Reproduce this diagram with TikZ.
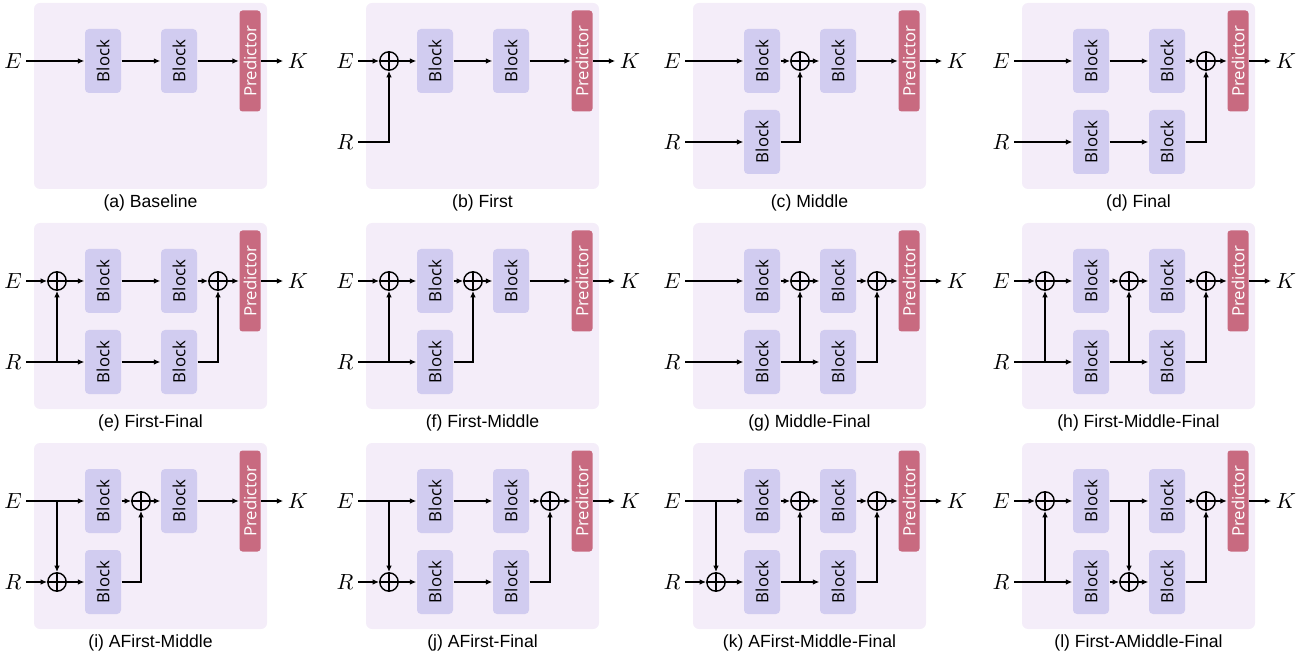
\documentclass[tikz,border=0pt]{standalone}
\usepackage{graphicx}
\usepackage{fontspec}
\setmainfont{Liberation Sans}
\newfontfamily\blockfont{Open Sans}
\usetikzlibrary{arrows.meta}

\definecolor{panelbg}{HTML}{F4EDF9}
\definecolor{blockfill}{HTML}{D1CCF0}
\definecolor{predfill}{HTML}{C86A80}

\newcommand{\blocklabel}{\rotatebox{90}{Block}}
\newcommand{\predlabel}{\rotatebox{90}{Predictor}}

\begin{document}
\begin{tikzpicture}[x=0.5pt,y=-0.5pt,line width=0.7pt,
  panel/.style={fill=panelbg, rounded corners=3pt},
  block/.style={fill=blockfill, rounded corners=2pt, minimum width=18pt,
    minimum height=32pt, inner sep=0pt, text=black,
    font=\blockfont\fontsize{8.4}{10}\selectfont},
  pred/.style={fill=predfill, rounded corners=1.5pt, minimum width=10.5pt,
    minimum height=50.5pt, inner sep=0pt, text=white,
    font=\blockfont\fontsize{8.4}{10}\selectfont},
  plus/.style={circle, draw, minimum size=9.2pt, inner sep=0pt,
    path picture={\draw (path picture bounding box.north) -- (path picture bounding box.south)
      (path picture bounding box.west) -- (path picture bounding box.east);}},
  lab/.style={inner sep=2pt, font=\fontsize{11}{13}\selectfont},
  subcap/.style={font=\fontsize{8.8}{10}\selectfont},
  arr/.style={-{Latex[length=3.2pt,width=2.8pt]}}]

  \useasboundingbox (0,0) rectangle (1310,662);

  % (a) Baseline
  \begin{scope}[shift={(34,3)}, name prefix=a-]
    \fill[panel] (0,0) rectangle (233,186);
    \node[lab] (E) at (-21,58) {$E$};
    \node[block] (B1) at (69,58) {\blocklabel};
    \node[block] (B2) at (145,58) {\blocklabel};
    \node[pred] (P) at (216,58) {\predlabel};
    \node[lab] (K) at (264,58) {$K$};
    \draw[arr] (E) -- (B1);
    \draw[arr] (B1) -- (B2);
    \draw[arr] (B2) -- (P);
    \draw[arr] (P) -- (K);
    \node[subcap] (caption) at (116.5,200) {(a) Baseline};
  \end{scope}

  % (b) First
  \begin{scope}[shift={(366,3)}, name prefix=b-]
    \fill[panel] (0,0) rectangle (233,186);
    \node[lab] (E) at (-21,58) {$E$};
    \node[lab] (R) at (-21,139) {$R$};
    \node[plus] (sF) at (23,58) {};
    \node[block] (B1) at (69,58) {\blocklabel};
    \node[block] (B2) at (145,58) {\blocklabel};
    \node[pred] (P) at (216,58) {\predlabel};
    \node[lab] (K) at (264,58) {$K$};
    \draw[arr] (E) -- (sF);
    \draw[arr] (sF) -- (B1);
    \draw[arr] (B1) -- (B2);
    \draw[arr] (B2) -- (P);
    \draw[arr] (P) -- (K);
    \draw[arr] (R) -| (sF);
    \node[subcap] (caption) at (116.5,200) {(b) First};
  \end{scope}

  % (c) Middle
  \begin{scope}[shift={(693,3)}, name prefix=c-]
    \fill[panel] (0,0) rectangle (233,186);
    \node[lab] (E) at (-21,58) {$E$};
    \node[lab] (R) at (-21,139) {$R$};
    \node[block] (B1) at (69,58) {\blocklabel};
    \node[plus] (sM) at (107,58) {};
    \node[block] (B2) at (145,58) {\blocklabel};
    \node[block] (C1) at (69,139) {\blocklabel};
    \node[pred] (P) at (216,58) {\predlabel};
    \node[lab] (K) at (264,58) {$K$};
    \draw[arr] (E) -- (B1);
    \draw[arr] (B1) -- (sM);
    \draw[arr] (sM) -- (B2);
    \draw[arr] (B2) -- (P);
    \draw[arr] (P) -- (K);
    \draw[arr] (R) -- (C1);
    \draw[arr] (C1) -| (sM);
    \node[subcap] (caption) at (116.5,200) {(c) Middle};
  \end{scope}

  % (d) Final
  \begin{scope}[shift={(1022,3)}, name prefix=d-]
    \fill[panel] (0,0) rectangle (233,186);
    \node[lab] (E) at (-21,58) {$E$};
    \node[lab] (R) at (-21,139) {$R$};
    \node[block] (B1) at (69,58) {\blocklabel};
    \node[block] (B2) at (145,58) {\blocklabel};
    \node[plus] (sL) at (184,58) {};
    \node[block] (C1) at (69,139) {\blocklabel};
    \node[block] (C2) at (145,139) {\blocklabel};
    \node[pred] (P) at (216,58) {\predlabel};
    \node[lab] (K) at (264,58) {$K$};
    \draw[arr] (E) -- (B1);
    \draw[arr] (B1) -- (B2);
    \draw[arr] (B2) -- (sL);
    \draw[arr] (sL) -- (P);
    \draw[arr] (P) -- (K);
    \draw[arr] (R) -- (C1);
    \draw[arr] (C1) -- (C2);
    \draw[arr] (C2) -| (sL);
    \node[subcap] (caption) at (116.5,200) {(d) Final};
  \end{scope}

  % (e) First-Final
  \begin{scope}[shift={(34,223)}, name prefix=e-]
    \fill[panel] (0,0) rectangle (233,186);
    \node[lab] (E) at (-21,58) {$E$};
    \node[lab] (R) at (-21,139) {$R$};
    \node[plus] (sF) at (23,58) {};
    \node[block] (B1) at (69,58) {\blocklabel};
    \node[block] (B2) at (145,58) {\blocklabel};
    \node[plus] (sL) at (184,58) {};
    \node[block] (C1) at (69,139) {\blocklabel};
    \node[block] (C2) at (145,139) {\blocklabel};
    \node[pred] (P) at (216,58) {\predlabel};
    \node[lab] (K) at (264,58) {$K$};
    \draw[arr] (E) -- (sF);
    \draw[arr] (sF) -- (B1);
    \draw[arr] (B1) -- (B2);
    \draw[arr] (B2) -- (sL);
    \draw[arr] (sL) -- (P);
    \draw[arr] (P) -- (K);
    \draw[arr] (R) -- (C1);
    \draw[arr] (R -| sF) -- (sF);
    \draw[arr] (C1) -- (C2);
    \draw[arr] (C2) -| (sL);
    \node[subcap] (caption) at (116.5,200) {(e) First-Final};
  \end{scope}

  % (f) First-Middle
  \begin{scope}[shift={(366,223)}, name prefix=f-]
    \fill[panel] (0,0) rectangle (233,186);
    \node[lab] (E) at (-21,58) {$E$};
    \node[lab] (R) at (-21,139) {$R$};
    \node[plus] (sF) at (23,58) {};
    \node[block] (B1) at (69,58) {\blocklabel};
    \node[plus] (sM) at (107,58) {};
    \node[block] (B2) at (145,58) {\blocklabel};
    \node[block] (C1) at (69,139) {\blocklabel};
    \node[pred] (P) at (216,58) {\predlabel};
    \node[lab] (K) at (264,58) {$K$};
    \draw[arr] (E) -- (sF);
    \draw[arr] (sF) -- (B1);
    \draw[arr] (B1) -- (sM);
    \draw[arr] (sM) -- (B2);
    \draw[arr] (B2) -- (P);
    \draw[arr] (P) -- (K);
    \draw[arr] (R) -- (C1);
    \draw[arr] (R -| sF) -- (sF);
    \draw[arr] (C1) -| (sM);
    \node[subcap] (caption) at (116.5,200) {(f) First-Middle};
  \end{scope}

  % (g) Middle-Final
  \begin{scope}[shift={(693,223)}, name prefix=g-]
    \fill[panel] (0,0) rectangle (233,186);
    \node[lab] (E) at (-21,58) {$E$};
    \node[lab] (R) at (-21,139) {$R$};
    \node[block] (B1) at (69,58) {\blocklabel};
    \node[plus] (sM) at (107,58) {};
    \node[block] (B2) at (145,58) {\blocklabel};
    \node[plus] (sL) at (184,58) {};
    \node[block] (C1) at (69,139) {\blocklabel};
    \node[block] (C2) at (145,139) {\blocklabel};
    \node[pred] (P) at (216,58) {\predlabel};
    \node[lab] (K) at (264,58) {$K$};
    \draw[arr] (E) -- (B1);
    \draw[arr] (B1) -- (sM);
    \draw[arr] (sM) -- (B2);
    \draw[arr] (B2) -- (sL);
    \draw[arr] (sL) -- (P);
    \draw[arr] (P) -- (K);
    \draw[arr] (R) -- (C1);
    \draw[arr] (C1) -- (C2);
    \draw[arr] (C1 -| sM) -- (sM);
    \draw[arr] (C2) -| (sL);
    \node[subcap] (caption) at (116.5,200) {(g) Middle-Final};
  \end{scope}

  % (h) First-Middle-Final
  \begin{scope}[shift={(1022,223)}, name prefix=h-]
    \fill[panel] (0,0) rectangle (233,186);
    \node[lab] (E) at (-21,58) {$E$};
    \node[lab] (R) at (-21,139) {$R$};
    \node[plus] (sF) at (23,58) {};
    \node[block] (B1) at (69,58) {\blocklabel};
    \node[plus] (sM) at (107,58) {};
    \node[block] (B2) at (145,58) {\blocklabel};
    \node[plus] (sL) at (184,58) {};
    \node[block] (C1) at (69,139) {\blocklabel};
    \node[block] (C2) at (145,139) {\blocklabel};
    \node[pred] (P) at (216,58) {\predlabel};
    \node[lab] (K) at (264,58) {$K$};
    \draw[arr] (E) -- (sF);
    \draw[arr] (sF) -- (B1);
    \draw[arr] (B1) -- (sM);
    \draw[arr] (sM) -- (B2);
    \draw[arr] (B2) -- (sL);
    \draw[arr] (sL) -- (P);
    \draw[arr] (P) -- (K);
    \draw[arr] (R) -- (C1);
    \draw[arr] (R -| sF) -- (sF);
    \draw[arr] (C1) -- (C2);
    \draw[arr] (C1 -| sM) -- (sM);
    \draw[arr] (C2) -| (sL);
    \node[subcap] (caption) at (116.5,200) {(h) First-Middle-Final};
  \end{scope}

  % (i) AFirst-Middle
  \begin{scope}[shift={(34,443)}, name prefix=i-]
    \fill[panel] (0,0) rectangle (233,186);
    \node[lab] (E) at (-21,58) {$E$};
    \node[lab] (R) at (-21,139) {$R$};
    \node[block] (B1) at (69,58) {\blocklabel};
    \node[plus] (sM) at (107,58) {};
    \node[block] (B2) at (145,58) {\blocklabel};
    \node[plus] (rF) at (23,139) {};
    \node[block] (C1) at (69,139) {\blocklabel};
    \node[pred] (P) at (216,58) {\predlabel};
    \node[lab] (K) at (264,58) {$K$};
    \draw[arr] (E) -- (B1);
    \draw[arr] (E -| rF) -- (rF);
    \draw[arr] (B1) -- (sM);
    \draw[arr] (sM) -- (B2);
    \draw[arr] (B2) -- (P);
    \draw[arr] (P) -- (K);
    \draw[arr] (R) -- (rF);
    \draw[arr] (rF) -- (C1);
    \draw[arr] (C1) -| (sM);
    \node[subcap] (caption) at (116.5,200) {(i) AFirst-Middle};
  \end{scope}

  % (j) AFirst-Final
  \begin{scope}[shift={(366,443)}, name prefix=j-]
    \fill[panel] (0,0) rectangle (233,186);
    \node[lab] (E) at (-21,58) {$E$};
    \node[lab] (R) at (-21,139) {$R$};
    \node[block] (B1) at (69,58) {\blocklabel};
    \node[block] (B2) at (145,58) {\blocklabel};
    \node[plus] (sL) at (184,58) {};
    \node[plus] (rF) at (23,139) {};
    \node[block] (C1) at (69,139) {\blocklabel};
    \node[block] (C2) at (145,139) {\blocklabel};
    \node[pred] (P) at (216,58) {\predlabel};
    \node[lab] (K) at (264,58) {$K$};
    \draw[arr] (E) -- (B1);
    \draw[arr] (E -| rF) -- (rF);
    \draw[arr] (B1) -- (B2);
    \draw[arr] (B2) -- (sL);
    \draw[arr] (sL) -- (P);
    \draw[arr] (P) -- (K);
    \draw[arr] (R) -- (rF);
    \draw[arr] (rF) -- (C1);
    \draw[arr] (C1) -- (C2);
    \draw[arr] (C2) -| (sL);
    \node[subcap] (caption) at (116.5,200) {(j) AFirst-Final};
  \end{scope}

  % (k) AFirst-Middle-Final
  \begin{scope}[shift={(693,443)}, name prefix=k-]
    \fill[panel] (0,0) rectangle (233,186);
    \node[lab] (E) at (-21,58) {$E$};
    \node[lab] (R) at (-21,139) {$R$};
    \node[block] (B1) at (69,58) {\blocklabel};
    \node[plus] (sM) at (107,58) {};
    \node[block] (B2) at (145,58) {\blocklabel};
    \node[plus] (sL) at (184,58) {};
    \node[plus] (rF) at (23,139) {};
    \node[block] (C1) at (69,139) {\blocklabel};
    \node[block] (C2) at (145,139) {\blocklabel};
    \node[pred] (P) at (216,58) {\predlabel};
    \node[lab] (K) at (264,58) {$K$};
    \draw[arr] (E) -- (B1);
    \draw[arr] (E -| rF) -- (rF);
    \draw[arr] (B1) -- (sM);
    \draw[arr] (sM) -- (B2);
    \draw[arr] (B2) -- (sL);
    \draw[arr] (sL) -- (P);
    \draw[arr] (P) -- (K);
    \draw[arr] (R) -- (rF);
    \draw[arr] (rF) -- (C1);
    \draw[arr] (C1) -- (C2);
    \draw[arr] (C1 -| sM) -- (sM);
    \draw[arr] (C2) -| (sL);
    \node[subcap] (caption) at (116.5,200) {(k) AFirst-Middle-Final};
  \end{scope}

  % (l) First-AMiddle-Final
  \begin{scope}[shift={(1022,443)}, name prefix=l-]
    \fill[panel] (0,0) rectangle (233,186);
    \node[lab] (E) at (-21,58) {$E$};
    \node[lab] (R) at (-21,139) {$R$};
    \node[plus] (sF) at (23,58) {};
    \node[block] (B1) at (69,58) {\blocklabel};
    \node[block] (B2) at (145,58) {\blocklabel};
    \node[plus] (sL) at (184,58) {};
    \node[block] (C1) at (69,139) {\blocklabel};
    \node[plus] (rM) at (107,139) {};
    \node[block] (C2) at (145,139) {\blocklabel};
    \node[pred] (P) at (216,58) {\predlabel};
    \node[lab] (K) at (264,58) {$K$};
    \draw[arr] (E) -- (sF);
    \draw[arr] (sF) -- (B1);
    \draw[arr] (B1) -- (B2);
    \draw[arr] (B1 -| rM) -- (rM);
    \draw[arr] (B2) -- (sL);
    \draw[arr] (sL) -- (P);
    \draw[arr] (P) -- (K);
    \draw[arr] (R) -- (C1);
    \draw[arr] (R -| sF) -- (sF);
    \draw[arr] (C1) -- (rM);
    \draw[arr] (rM) -- (C2);
    \draw[arr] (C2) -| (sL);
    \node[subcap] (caption) at (116.5,200) {(l) First-AMiddle-Final};
  \end{scope}

\end{tikzpicture}
\end{document}
